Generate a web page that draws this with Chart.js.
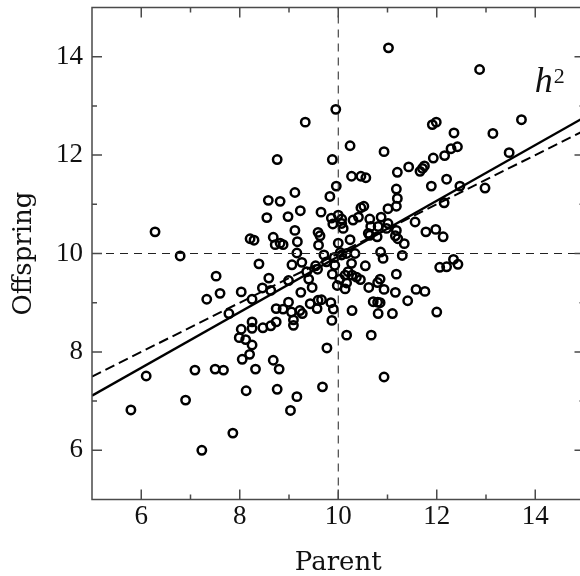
<!DOCTYPE html>
<html>
<head>
<meta charset="utf-8">
<script src="https://cdn.jsdelivr.net/npm/chart.js@4.4.1/dist/chart.umd.min.js"></script>
<style>
  html, body { margin: 0; padding: 0; overflow: hidden; background: #fff; }
  canvas { display: block; }
</style>
</head>
<body>
<canvas id="heritability" width="600" height="576"></canvas>
<script>
// parent / offspring values
const parentX = [
  5.79, 6.10, 6.28, 6.79, 6.90, 7.09, 7.23, 7.33, 7.50, 7.52,
  7.60, 7.67, 7.78, 7.86, 7.99, 8.03, 8.03, 8.05, 8.12, 8.13,
  8.20, 8.21, 8.25, 8.25, 8.25, 8.25, 8.29, 8.32, 8.39, 8.46,
  8.47, 8.55, 8.58, 8.59, 8.63, 8.63, 8.68, 8.68, 8.72, 8.74,
  8.74, 8.76, 8.76, 8.80, 8.82, 8.82, 8.88, 8.88, 8.98, 8.99,
  8.99, 9.03, 9.05, 9.06, 9.09, 9.09, 9.12, 9.12, 9.17, 9.16,
  9.16, 9.22, 9.27, 9.23, 9.24, 9.26, 9.33, 9.36, 9.40, 9.43,
  9.47, 9.54, 9.58, 9.57, 9.59, 9.59, 9.63, 9.60, 9.65, 9.66,
  9.68, 9.71, 9.76, 9.77, 9.83, 9.86, 9.85, 9.87, 9.88, 9.89,
  9.88, 9.90, 9.92, 9.93, 9.95, 9.96, 9.98, 10.00, 10.00, 10.03,
  10.04, 10.07, 10.07, 10.07, 10.10, 10.14, 10.14, 10.17, 10.17, 10.17,
  10.20, 10.24, 10.24, 10.27, 10.27, 10.28, 10.28, 10.30, 10.34, 10.37,
  10.41, 10.45, 10.46, 10.46, 10.52, 10.55, 10.56, 10.61, 10.62, 10.64,
  10.66, 10.64, 10.67, 10.71, 10.79, 10.80, 10.85, 10.81, 10.80, 10.81,
  10.85, 10.87, 10.86, 10.91, 10.93, 10.93, 10.93, 10.98, 11.01, 11.01,
  11.02, 11.10, 11.16, 11.16, 11.18, 11.18, 11.18, 11.18, 11.20, 11.20,
  11.21, 11.30, 11.34, 11.41, 11.43, 11.56, 11.58, 11.66, 11.71, 11.75,
  11.76, 11.78, 11.89, 11.91, 11.93, 11.98, 11.99, 12.00, 12.06, 12.13,
  12.15, 12.16, 12.20, 12.20, 12.29, 12.34, 12.35, 12.42, 12.43, 12.47,
  12.87, 12.98, 13.14, 13.47, 13.72
];
const offspringY = [
  6.82, 7.51, 10.44, 9.95, 7.02, 7.63, 6.00, 9.07, 7.65, 9.54,
  9.19, 7.63, 8.78, 6.35, 8.29, 9.22, 8.46, 7.85, 8.25, 7.21,
  7.95, 10.30, 9.07, 8.61, 8.48, 8.14, 10.27, 7.65, 9.79, 9.30,
  8.49, 10.73, 11.08, 9.50, 8.53, 9.25, 10.33, 7.83, 10.18, 8.88,
  8.61, 11.91, 7.24, 7.65, 11.06, 10.21, 10.18, 8.87, 10.75, 9.01,
  9.45, 6.81, 8.81, 9.77, 8.65, 8.54, 11.24, 10.47, 10.24, 10.01,
  7.09, 8.84, 8.78, 10.87, 9.21, 9.82, 12.67, 9.63, 9.48, 8.98,
  9.31, 9.75, 9.68, 8.88, 9.05, 10.43, 10.36, 10.17, 10.84, 9.06,
  7.29, 9.97, 9.83, 8.08, 11.16, 10.72, 9.00, 8.64, 11.91, 10.60,
  9.58, 8.87, 9.92, 9.76, 12.93, 11.37, 9.35, 10.78, 10.21, 9.48,
  10.02, 10.70, 10.61, 9.97, 10.51, 9.56, 9.28, 10.00, 9.40, 8.34,
  9.63, 12.19, 10.28, 11.57, 9.80, 8.84, 9.56, 10.68, 10.00, 9.52,
  10.74, 9.47, 11.57, 10.93, 10.96, 9.75, 11.54, 10.41, 9.31, 10.70,
  10.55, 10.37, 8.34, 9.02, 10.34, 9.01, 9.00, 8.78, 9.41, 10.55,
  9.48, 10.74, 10.03, 9.90, 12.07, 9.27, 7.49, 10.51, 10.61, 10.91,
  14.18, 8.78, 10.36, 9.21, 10.96, 11.31, 10.47, 9.58, 11.65, 11.12,
  10.30, 9.96, 10.20, 9.04, 11.76, 10.64, 9.27, 11.67, 11.73, 11.78,
  9.23, 10.44, 11.37, 12.62, 11.94, 10.49, 12.67, 8.81, 9.72, 10.34,
  11.03, 11.99, 11.51, 9.73, 12.13, 9.88, 12.45, 12.17, 9.78, 11.37,
  13.74, 11.33, 12.44, 12.05, 12.72
];

// fitted lines, end points at the axis limits
const fitX = [5, 15];
const fitSolidY = [7.11, 12.77];
const fitDashedY = [7.5, 12.5];

// population means
const meanX = 10;
const meanY = 10;

const axisMin = 5;
const axisMax = 15;
const tickLabels = [6, 8, 10, 12, 14];

const h2At = {x: 13.99, y: 13.28};

function pts(xs, ys) {
  return xs.map((v, i) => ({x: v, y: ys[i]}));
}

// frame with inward ticks on all four sides, plus the h^2 label
const frameTicks = {
  id: 'frameTicks',
  afterDraw(chart) {
    const {ctx, chartArea: a, scales: {x, y}} = chart;
    ctx.save();
    ctx.strokeStyle = '#4a4a4a';
    ctx.lineWidth = 1.5;
    ctx.strokeRect(a.left, a.top, a.right - a.left, a.bottom - a.top);
    ctx.beginPath();
    for (let v = axisMin + 1; v < axisMax; v++) {
      const len = v % 2 === 0 ? 10 : 5;
      const px = x.getPixelForValue(v);
      const py = y.getPixelForValue(v);
      ctx.moveTo(px, a.bottom); ctx.lineTo(px, a.bottom - len);
      ctx.moveTo(px, a.top); ctx.lineTo(px, a.top + len);
      ctx.moveTo(a.left, py); ctx.lineTo(a.left + len, py);
      ctx.moveTo(a.right, py); ctx.lineTo(a.right - len, py);
    }
    ctx.stroke();

    const hx = x.getPixelForValue(h2At.x);
    const hy = y.getPixelForValue(h2At.y);
    ctx.fillStyle = '#111';
    ctx.textBaseline = 'alphabetic';
    ctx.textAlign = 'left';
    ctx.font = 'italic 36px "Liberation Serif"';
    ctx.fillText('h', hx, hy);
    const w = ctx.measureText('h').width;
    ctx.font = '22px "Liberation Serif"';
    ctx.fillText('2', hx + w + 1, hy - 9);
    ctx.restore();
  }
};

var ctx_h2 = document.getElementById('heritability');
var h2chart = new Chart(ctx_h2, {
  type: 'scatter',
  data: {
    datasets: [
      {
        label: 'mean parent',
        data: pts([meanX, meanX], [axisMin, axisMax]),
        showLine: true,
        borderColor: '#222',
        borderWidth: 1,
        borderDash: [8, 6],
        pointRadius: 0,
      },
      {
        label: 'mean offspring',
        data: pts([axisMin, axisMax], [meanY, meanY]),
        showLine: true,
        borderColor: '#222',
        borderWidth: 1,
        borderDash: [8, 6],
        pointRadius: 0,
      },
      {
        label: 'families',
        data: pts(parentX, offspringY),
        pointStyle: 'circle',
        pointRadius: 4.2,
        pointBorderWidth: 2.5,
        pointBorderColor: '#000',
        pointBackgroundColor: 'rgba(0,0,0,0)',
      },
      {
        label: 'fit',
        data: pts(fitX, fitSolidY),
        showLine: true,
        borderColor: '#000',
        borderWidth: 2.3,
        pointRadius: 0,
      },
      {
        label: 'fit (dashed)',
        data: pts(fitX, fitDashedY),
        showLine: true,
        borderColor: '#000',
        borderWidth: 2,
        borderDash: [10, 5],
        pointRadius: 0,
      }
    ],
  },
  options: {
    responsive: false,
    animation: false,
    events: [],
    layout: {
      padding: {top: 7.5, right: 15.5, left: 0, bottom: 0}
    },
    plugins: {
      legend: { display: false },
      tooltip: { enabled: false }
    },
    scales: {
      x: {
        type: 'linear',
        min: axisMin,
        max: axisMax,
        afterFit: (s) => { s.height = 76.5; s.paddingLeft = 0; s.paddingRight = 0; },
        border: { display: false },
        grid: { display: false, drawTicks: false },
        ticks: {
          stepSize: 1,
          autoSkip: false,
          maxRotation: 0,
          padding: 4,
          color: '#111',
          font: { family: 'Liberation Serif', size: 27, lineHeight: 1 },
          callback: (v) => tickLabels.includes(v) ? v : ''
        },
        title: {
          display: true,
          text: 'Parent',
          color: '#111',
          padding: { top: 0, bottom: 0 },
          font: { family: 'DejaVu Serif', size: 26, lineHeight: 1 }
        }
      },
      y: {
        type: 'linear',
        min: axisMin,
        max: axisMax,
        afterFit: (s) => { s.width = 92; s.paddingTop = 0; s.paddingBottom = 0; },
        border: { display: false },
        grid: { display: false, drawTicks: false },
        ticks: {
          stepSize: 1,
          autoSkip: false,
          padding: 9,
          color: '#111',
          font: { family: 'Liberation Serif', size: 27, lineHeight: 1 },
          callback: (v) => tickLabels.includes(v) ? v : ''
        },
        title: {
          display: true,
          text: 'Offspring',
          color: '#111',
          padding: { top: 11, bottom: 0 },
          font: { family: 'DejaVu Serif', size: 26, lineHeight: 1 }
        }
      }
    }
  },
  plugins: [frameTicks]
});
</script>
</body>
</html>
